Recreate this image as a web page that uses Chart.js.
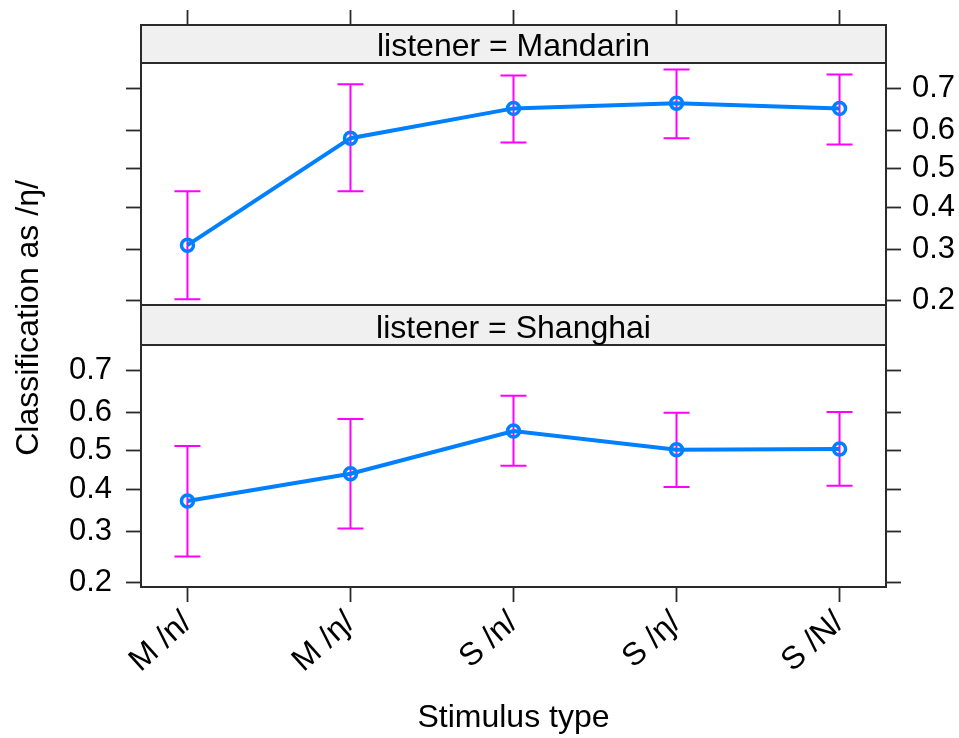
<!DOCTYPE html>
<html>
<head>
<meta charset="utf-8">
<script src="https://cdn.jsdelivr.net/npm/chart.js@4.4.1/dist/chart.umd.min.js"></script>
<style>
  html, body { margin: 0; padding: 0; background: #ffffff; }
  #wrap { position: relative; width: 959px; height: 738px; }
  #wrap canvas { position: absolute; left: 0; top: 0; }
</style>
</head>
<body>
<div id="wrap">
  <canvas id="shanghaiPanel" width="959" height="738"></canvas>
  <canvas id="mandarinPanel" width="959" height="738"></canvas>
</div>
<script>
// Stimulus categories along the x axis
const stimulusTypes = ['M /n/', 'M /ŋ/', 'S /n/', 'S /ŋ/', 'S /N/'];

// Proportion of responses classified as /ŋ/, with interval bounds
const mandarinMean  = [0.309, 0.580, 0.654, 0.666, 0.654];
const mandarinLower = [0.202, 0.441, 0.569, 0.580, 0.564];
const mandarinUpper = [0.441, 0.709, 0.728, 0.740, 0.730];

const shanghaiMean  = [0.371, 0.440, 0.552, 0.503, 0.505];
const shanghaiLower = [0.247, 0.306, 0.461, 0.406, 0.409];
const shanghaiUpper = [0.513, 0.583, 0.641, 0.599, 0.601];

// Probability ticks shown on the logit-spaced y axis
const probTicks = [0.2, 0.3, 0.4, 0.5, 0.6, 0.7];

// Axis limits (y in logit units, x in category index units)
const yLimits = [-1.435, 1.115];
const xLimits = [-0.285, 4.285];

const logit = p => Math.log(p / (1 - p));

const FONT = '"Liberation Sans", Arial, Helvetica, sans-serif';
Chart.defaults.font.family = FONT;
Chart.defaults.color = '#000000';

const LINE_BLUE = '#0080ff';
const BAR_MAGENTA = '#ff00ff';
const FRAME = '#2a2a2a';
const TICK_FONT = 31;
const LABEL_FONT = 32;

// Page layout (pixels)
const PANEL_LEFT = 141;
const RIGHT_AXIS_W = 959 - 886;
const TOP_STRIP = [25, 63];
const TOP_PANEL = [63, 305];
const BOT_STRIP = [305, 345];
const BOT_PANEL = [345, 587];

function yAxis(position, showLabels, width) {
  return {
    type: 'linear',
    position: position,
    min: yLimits[0],
    max: yLimits[1],
    afterBuildTicks: s => { s.ticks = probTicks.map(p => ({ value: logit(p) })); },
    afterFit: s => { s.width = width; },
    ticks: {
      display: showLabels,
      autoSkip: false,
      font: { size: TICK_FONT },
      color: '#000000',
      padding: position === 'left' ? 14 : 11,
      callback: (v, i) => probTicks[i].toFixed(1)
    },
    grid: { drawOnChartArea: false, drawTicks: true, tickLength: 15, tickColor: FRAME, tickWidth: 1.8 },
    border: { display: false }
  };
}

function xAxis(position, opts) {
  return Object.assign({
    type: 'linear',
    position: position,
    min: xLimits[0],
    max: xLimits[1],
    afterBuildTicks: s => { s.ticks = stimulusTypes.map((c, i) => ({ value: i })); },
    border: { display: false }
  }, opts);
}

// Error bars, panel frame and strip header for one panel
function panelDecor(lower, upper, stripText, strip) {
  return {
    id: 'panelDecor',
    beforeDatasetsDraw(chart) {
      const ctx = chart.ctx;
      const xs = chart.scales.x, ys = chart.scales.y;
      ctx.save();
      ctx.strokeStyle = BAR_MAGENTA;
      ctx.lineWidth = 2;
      for (let i = 0; i < lower.length; i++) {
        const x = xs.getPixelForValue(i);
        const y0 = ys.getPixelForValue(logit(lower[i]));
        const y1 = ys.getPixelForValue(logit(upper[i]));
        ctx.beginPath();
        ctx.moveTo(x, y0); ctx.lineTo(x, y1);
        ctx.moveTo(x - 13, y0); ctx.lineTo(x + 13, y0);
        ctx.moveTo(x - 13, y1); ctx.lineTo(x + 13, y1);
        ctx.stroke();
      }
      ctx.restore();
    },
    afterDraw(chart) {
      const ctx = chart.ctx;
      const a = chart.chartArea;
      ctx.save();
      ctx.strokeStyle = FRAME;
      ctx.lineWidth = 2;
      ctx.strokeRect(a.left, a.top, a.right - a.left, a.bottom - a.top);
      ctx.fillStyle = '#f0f0f0';
      ctx.fillRect(a.left, strip[0], a.right - a.left, strip[1] - strip[0]);
      ctx.strokeRect(a.left, strip[0], a.right - a.left, strip[1] - strip[0]);
      ctx.fillStyle = '#000000';
      ctx.font = LABEL_FONT + 'px ' + FONT;
      ctx.textAlign = 'center';
      ctx.textBaseline = 'alphabetic';
      ctx.fillText(stripText, (a.left + a.right) / 2, strip[1] - 7);
      ctx.restore();
    }
  };
}

// Shared y-axis title spanning both panels
const yTitle = {
  id: 'yTitle',
  afterDraw(chart) {
    const ctx = chart.ctx;
    ctx.save();
    ctx.translate(38, 318);
    ctx.rotate(-Math.PI / 2);
    ctx.font = LABEL_FONT + 'px ' + FONT;
    ctx.fillStyle = '#000000';
    ctx.textAlign = 'center';
    ctx.textBaseline = 'alphabetic';
    ctx.fillText('Classification as /ŋ/', 0, 0);
    ctx.restore();
  }
};

function seriesDataset(mean) {
  return {
    data: mean.map((p, i) => ({ x: i, y: logit(p) })),
    borderColor: LINE_BLUE,
    borderWidth: 4,
    tension: 0,
    pointRadius: 6,
    pointBorderWidth: 3.5,
    pointBorderColor: LINE_BLUE,
    pointBackgroundColor: 'rgba(0,0,0,0)',
    fill: false
  };
}

const common = {
  responsive: false,
  animation: false,
  devicePixelRatio: 1,
  plugins: { legend: { display: false }, tooltip: { enabled: false } }
};

// Lower panel: Shanghai listeners
new Chart(document.getElementById('shanghaiPanel'), {
  type: 'line',
  data: { datasets: [seriesDataset(shanghaiMean)] },
  options: Object.assign({}, common, {
    layout: { padding: { top: BOT_PANEL[0], bottom: 0, left: 0, right: 0 } },
    scales: {
      x: xAxis('bottom', {
        afterFit: s => { s.height = 738 - BOT_PANEL[1]; },
        ticks: {
          autoSkip: false, minRotation: 42, maxRotation: 42,
          font: { size: LABEL_FONT }, color: '#000000', padding: 2,
          callback: (v, i) => stimulusTypes[i]
        },
        grid: { drawOnChartArea: false, drawTicks: true, tickLength: 15, tickColor: FRAME, tickWidth: 1.8 },
        title: { display: true, text: 'Stimulus type', font: { size: LABEL_FONT }, color: '#000000', padding: { top: 0, bottom: 1 } }
      }),
      y: yAxis('left', true, PANEL_LEFT),
      yR: yAxis('right', false, RIGHT_AXIS_W)
    }
  }),
  plugins: [panelDecor(shanghaiLower, shanghaiUpper, 'listener = Shanghai', BOT_STRIP), yTitle]
});

// Upper panel: Mandarin listeners
new Chart(document.getElementById('mandarinPanel'), {
  type: 'line',
  data: { datasets: [seriesDataset(mandarinMean)] },
  options: Object.assign({}, common, {
    layout: { padding: { top: 0, bottom: 738 - TOP_PANEL[1], left: 0, right: 0 } },
    scales: {
      x: xAxis('top', {
        afterFit: s => { s.height = TOP_PANEL[0]; },
        ticks: { display: false },
        grid: { drawOnChartArea: false, drawTicks: true, tickLength: TOP_PANEL[0] - 10, tickColor: FRAME, tickWidth: 1.8 }
      }),
      yL: yAxis('left', false, PANEL_LEFT),
      y: yAxis('right', true, RIGHT_AXIS_W)
    }
  }),
  plugins: [panelDecor(mandarinLower, mandarinUpper, 'listener = Mandarin', TOP_STRIP)]
});
</script>
</body>
</html>
